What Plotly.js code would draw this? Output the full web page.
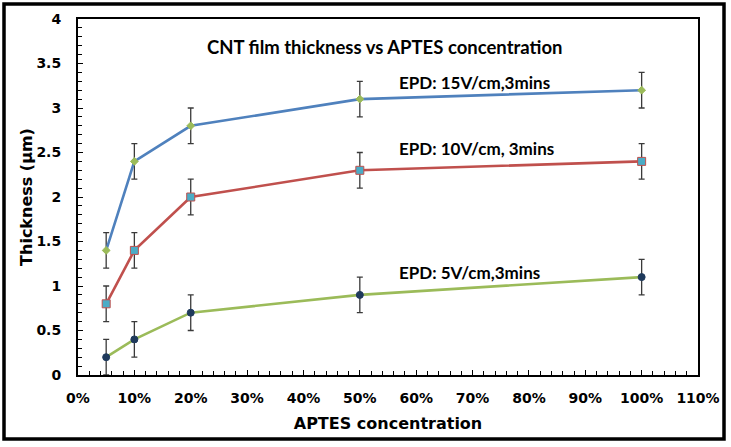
<!DOCTYPE html>
<html>
<head>
<meta charset="utf-8">
<script src="https://cdn.plot.ly/plotly-3.0.1.min.js"></script>
<style>
  body { margin: 0; background: #fff; }
  #grafica { width: 731px; height: 447px; }
</style>
</head>
<body>
<div id="grafica"></div>
<script>
// Datos
const concentracion = [0.05, 0.10, 0.20, 0.50, 1.00];
const espesor15V = [1.4, 2.4, 2.8, 3.1, 3.2];
const espesor10V = [0.8, 1.4, 2.0, 2.3, 2.4];
const espesor5V = [0.2, 0.4, 0.7, 0.9, 1.1];
const errorBarra = [0.2, 0.2, 0.2, 0.2, 0.2];
const etiquetas = ['EPD: 15V/cm,3mins', 'EPD: 10V/cm, 3mins', 'EPD: 5V/cm,3mins'];

const colorError = '#3a3a3a';

function serie(y, colorLinea, simbolo, tam, relleno, borde) {
    return {
        x: concentracion,
        y: y,
        type: 'scatter',
        mode: 'lines+markers',
        line: { color: colorLinea, width: 2.6 },
        marker: { symbol: simbolo, size: tam, color: relleno, line: { color: borde, width: 1 } },
        error_y: { type: 'data', array: errorBarra, visible: true, color: colorError, thickness: 1.3, width: 3 },
        hoverinfo: 'x+y'
    };
}

const traces = [
    serie(espesor15V, '#4f81bd', 'diamond', 6, '#9bbb59', '#9bbb59'),
    serie(espesor10V, '#c0504d', 'square', 8, '#4bacc6', '#c0504d'),
    serie(espesor5V, '#9bbb59', 'circle', 7, '#1f3a5c', '#1f3a5c')
];

const familiaEje = 'DejaVu Sans, Arial, sans-serif';
const fuenteEje = { family: familiaEje, size: 14, color: '#000', weight: 'bold' };
const fuenteTitulo = { family: familiaEje, size: 16, color: '#000', weight: 'bold' };
const fuenteTexto = { family: 'Lato, Calibri, sans-serif', size: 17, color: '#000', weight: 'bold' };

// marco exterior (en coordenadas de papel, fuera del area de trazado)
const ml = 78, mr = 33, mt = 19, mb = 72;
const anchoP = 731 - ml - mr, altoP = 447 - mt - mb;
const px = v => (v - ml) / anchoP;
const py = v => (447 - mb - v) / altoP;

const layout = {
    width: 731,
    height: 447,
    margin: { l: ml, r: mr, t: mt, b: mb },
    paper_bgcolor: '#fff',
    plot_bgcolor: '#fff',
    showlegend: false,
    xaxis: {
        range: [0, 1.1],
        dtick: 0.1,
        tickformat: '.0%',
        showgrid: false,
        zeroline: false,
        showline: true,
        linecolor: '#000',
        linewidth: 2,
        mirror: true,
        ticks: 'inside',
        ticklen: 5,
        tickcolor: '#000',
        minor: { dtick: 0.02, ticks: 'inside', ticklen: 4, tickcolor: '#000', showgrid: false },
        tickfont: fuenteEje,
        ticklabelstandoff: 9,
        title: { text: 'APTES concentration', font: fuenteTitulo, standoff: 13 }
    },
    yaxis: {
        range: [0, 4],
        dtick: 0.5,
        showgrid: false,
        zeroline: false,
        showline: true,
        linecolor: '#000',
        linewidth: 2,
        mirror: true,
        ticks: 'inside',
        ticklen: 5,
        tickcolor: '#000',
        minor: { dtick: 0.1, ticks: 'inside', ticklen: 4, tickcolor: '#000', showgrid: false },
        tickfont: fuenteEje,
        ticklabelstandoff: 12,
        title: { text: 'Thickness (μm)', font: fuenteTitulo, standoff: 0 }
    },
    annotations: [
        { x: 0.545, y: 3.69, xref: 'x', yref: 'y', text: 'CNT film thickness vs APTES concentration', showarrow: false, xanchor: 'center', yanchor: 'middle', font: Object.assign({}, fuenteTexto, { size: 18.5 }) },
        { x: 0.566, y: 3.29, xref: 'x', yref: 'y', text: etiquetas[0], showarrow: false, xanchor: 'left', yanchor: 'middle', font: fuenteTexto },
        { x: 0.566, y: 2.55, xref: 'x', yref: 'y', text: etiquetas[1], showarrow: false, xanchor: 'left', yanchor: 'middle', font: fuenteTexto },
        { x: 0.566, y: 1.15, xref: 'x', yref: 'y', text: etiquetas[2], showarrow: false, xanchor: 'left', yanchor: 'middle', font: fuenteTexto }
    ],
    shapes: [
        { type: 'rect', xref: 'paper', yref: 'paper', x0: px(4), x1: px(724), y0: py(439), y1: py(4), line: { color: '#000', width: 3.5 }, fillcolor: 'rgba(0,0,0,0)', layer: 'above' }
    ]
};

Plotly.newPlot('grafica', traces, layout, { displayModeBar: false, staticPlot: true });
</script>
</body>
</html>
